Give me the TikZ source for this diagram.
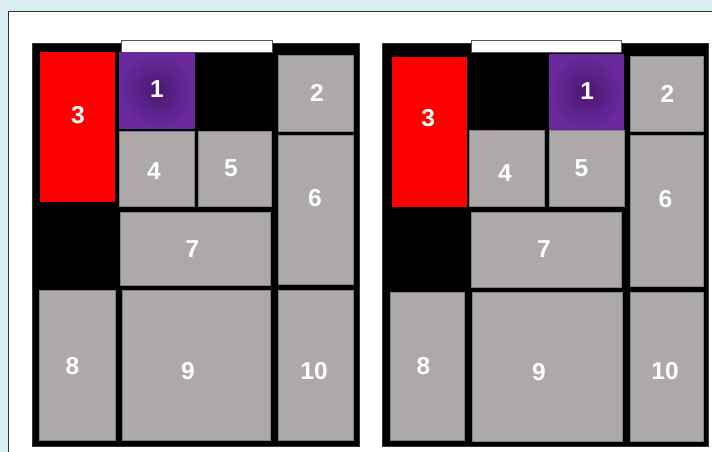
\documentclass[tikz,border=0pt]{standalone}
\usepackage{fontspec}
\setmainfont{Liberation Sans}
\begin{document}
\begin{tikzpicture}[x=1pt,y=-1pt,
  tile/.style={fill=tilegray,draw=tileedge,line width=0.7pt},
  redtile/.style={fill=red,draw=none},
  purpletile/.style={inner color=purpin,outer color=purpout,draw=none},
  board/.style={fill=black,draw=black!80,line width=0.6pt},
  bar/.style={fill=white,draw=barline,line width=0.8pt},
  num/.style={text=white,inner sep=0pt,font=\fontsize{24.5}{24.5}\selectfont\bfseries}]
\definecolor{bgblue}{HTML}{DAEEF2}
\definecolor{tilegray}{HTML}{ADA9A8}
\definecolor{tileedge}{HTML}{808080}
\definecolor{purpin}{HTML}{4A1870}
\definecolor{purpout}{HTML}{6A2A9E}
\definecolor{barline}{HTML}{555555}
\useasboundingbox (0,0) rectangle (712,452);
\clip (0,0) rectangle (712,452);
\fill[bgblue] (0,0) rectangle (712,452);
\draw[fill=white,draw=black!80,line width=1pt] (8,12) rectangle (730,470);
% ---------- left board ----------
\draw[board] (32,43.3) rectangle (359,446.7);
\draw[bar] (121,40.7) rectangle (272,52.5);
\fill[red] (39.5,52.3) rectangle (115,201.5);
\fill[purpletile] (119,52.3) rectangle (194.5,128.5);
\draw[tile] (278.5,55.7) rectangle (353.5,131);
\draw[tile] (119,131) rectangle (194.5,206);
\draw[tile] (198.5,131) rectangle (271.7,206);
\draw[tile] (278.5,135) rectangle (353.5,284.5);
\draw[tile] (120.5,212.3) rectangle (270.7,285.7);
\draw[tile] (39.5,290) rectangle (115,440.7);
\draw[tile] (122.5,290) rectangle (270.7,440.7);
\draw[tile] (278.5,290) rectangle (353.5,440.7);
\node[num] (a3) at (78,115) {3};
\node[num] (a1) at (157,89) {1};
\node[num] (a2) at (317,93) {2};
\node[num] (a4) at (154,171.5) {4};
\node[num] (a5) at (231,168) {5};
\node[num] (a6) at (315,198.5) {6};
\node[num] (a7) at (192.5,249) {7};
\node[num] (a8) at (72.5,366.5) {8};
\node[num] (a9) at (188,371.5) {9};
\node[num] (a10) at (314,371) {10};
% ---------- right board ----------
\draw[board] (382.7,43.3) rectangle (708.7,446.7);
\draw[bar] (471.7,40.7) rectangle (621.7,52.7);
\fill[red] (391.7,57.3) rectangle (466.7,207.3);
\fill[purpletile] (549,54.7) rectangle (624,129.7);
\draw[tile] (630.3,56) rectangle (703.3,131);
\draw[tile] (469.3,130.7) rectangle (544,206.7);
\draw[tile] (549,130.7) rectangle (624,206);
\draw[tile] (630.3,135.3) rectangle (703.3,286);
\draw[tile] (471.7,212.3) rectangle (621,287);
\draw[tile] (390,292.5) rectangle (464.3,440.5);
\draw[tile] (472.7,292.5) rectangle (622.3,441);
\draw[tile] (630.3,292.5) rectangle (703.3,441);
\node[num] (b3) at (428.3,118.5) {3};
\node[num] (b1) at (587.3,90.7) {1};
\node[num] (b2) at (667.5,94) {2};
\node[num] (b4) at (505,173.3) {4};
\node[num] (b5) at (581.5,168.3) {5};
\node[num] (b6) at (665.5,199) {6};
\node[num] (b7) at (544,249.3) {7};
\node[num] (b8) at (423.5,366.5) {8};
\node[num] (b9) at (539,371.7) {9};
\node[num] (b10) at (665,370.7) {10};
\end{tikzpicture}
\end{document}
